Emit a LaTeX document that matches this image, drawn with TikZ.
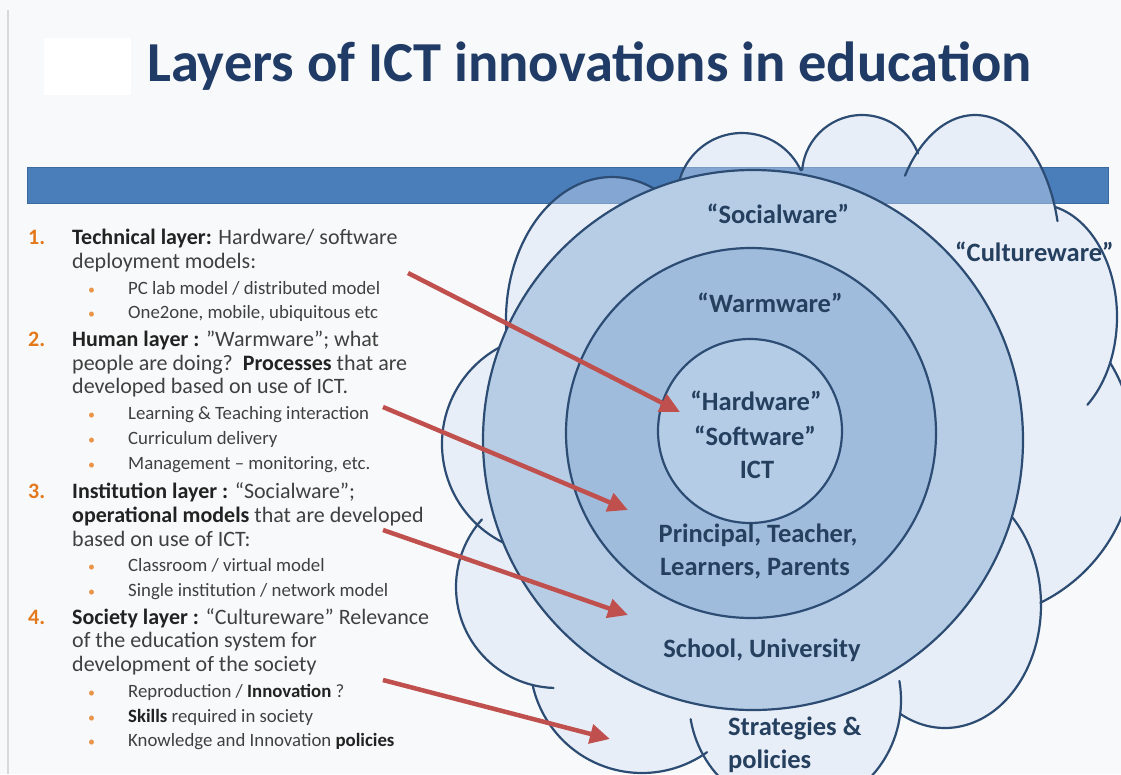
\documentclass[tikz,border=0pt]{standalone}
\usepackage{fontspec}
\setmainfont{Carlito}
\usetikzlibrary{arrows.meta}

\definecolor{slidebg}{HTML}{F8F9FA}
\definecolor{titleblue}{HTML}{1F3B66}
\definecolor{barblue}{HTML}{4A7EBB}
\definecolor{bardark}{HTML}{3A6A9E}
\definecolor{edgeblue}{HTML}{2C4C73}
\definecolor{cloudfill}{HTML}{D4E1F3}
\definecolor{socialfill}{HTML}{B7CDE6}
\definecolor{warmfill}{HTML}{9FBCDD}
\definecolor{hardfill}{HTML}{B5CCE6}
\definecolor{ringtext}{HTML}{253F5F}
\definecolor{bodytext}{HTML}{404040}
\definecolor{boldtext}{HTML}{222222}
\definecolor{numorange}{HTML}{E3791C}
\definecolor{arrowred}{HTML}{C0504D}

\newcommand{\lyrbold}[1]{{\bfseries\color{boldtext}#1}}

\begin{document}
\begin{tikzpicture}[x=1pt, y=-1pt,
  cloud edge/.style={draw=edgeblue, line width=2.2pt, line cap=round},
  ring/.style={circle, draw=edgeblue, line width=2.2pt, inner sep=0pt},
  ring label/.style={anchor=base, text=ringtext, font=\fontsize{26.5}{30}\bfseries, inner sep=0pt},
  num label/.style={anchor=base west, text=numorange, font=\fontsize{22}{24}\bfseries, inner sep=0pt},
  main line/.style={anchor=base west, text=bodytext, font=\fontsize{22}{24}\selectfont, inner sep=0pt},
  dot label/.style={anchor=base west, text=numorange!80, font=\fontsize{14}{16}\selectfont, inner sep=0pt},
  bullet line/.style={anchor=base west, text=bodytext, font=\fontsize{18.8}{20}\selectfont, inner sep=0pt},
  pointer/.style={draw=arrowred, line width=4.5pt, -{Triangle[length=20pt,width=19pt]}}]

\useasboundingbox (0,0) rectangle (1121,774);
\clip (0,0) rectangle (1121,774);

% slide
\fill[slidebg] (0,0) rectangle (1121,774);
\draw[black!15, line width=1.5pt] (8,10) -- (8,774);
\fill[white] (44,38) rectangle (131,95);

% title
\node[anchor=base west, text=titleblue, font=\fontsize{56.5}{60}\bfseries, inner sep=0pt] (title) at (147,81) {Layers of ICT innovations in education};

% bar
\filldraw[fill=barblue, draw=bardark, line width=1pt] (27,167) rectangle (1108,203);

% cloud: fill
\path[fill=cloudfill, fill opacity=0.42]
  ([shift={(612,320)}]170:106 and 143) arc[start angle=170, end angle=302, x radius=106, y radius=143]
  -- ([shift={(742,198)}]180:65) arc[start angle=180, end angle=335, radius=65]
  -- ([shift={(862,175)}]185:60) arc[start angle=185, end angle=339, radius=60]
  -- ([shift={(975,255)}]227.4:85 and 140) arc[start angle=227.4, end angle=340, x radius=85, y radius=140]
  -- ([shift={(1037,317)}]-77:80 and 113) arc[start angle=-77, end angle=24, x radius=80, y radius=113]
  -- ([shift={(966,451)}]-31.4:169) arc[start angle=-31.4, end angle=63.9, radius=169]
  -- ([shift={(945,605)}]-1.4:96 and 123) arc[start angle=-1.4, end angle=118, x radius=96, y radius=123]
  -- ([shift={(795,700)}]6.8:106 and 110) arc[start angle=6.8, end angle=150.3, x radius=106, y radius=110]
  -- ([shift={(642,661)}]54.5:112) arc[start angle=54.5, end angle=167.6, radius=112]
  -- ([shift={(557,587)}]103.8:101) arc[start angle=103.8, end angle=217.8, radius=101]
  -- ([shift={(552,444)}]132.8:110) arc[start angle=132.8, end angle=244.1, radius=110]
  -- cycle;

% cloud: bumps
\draw[cloud edge] ([shift={(612,320)}]165:106 and 143) arc[start angle=165, end angle=305, x radius=106, y radius=143];
\draw[cloud edge] ([shift={(742,198)}]180:65) arc[start angle=180, end angle=335, radius=65];
\draw[cloud edge] ([shift={(862,175)}]185:60) arc[start angle=185, end angle=339, radius=60];
\draw[cloud edge] ([shift={(975,255)}]214.5:85 and 140) arc[start angle=214.5, end angle=346, x radius=85, y radius=140];
\draw[cloud edge] ([shift={(1037,317)}]-77:80 and 113) arc[start angle=-77, end angle=51, x radius=80, y radius=113];
\draw[cloud edge] ([shift={(966,451)}]-31.4:169) arc[start angle=-31.4, end angle=63.9, radius=169];
\draw[cloud edge] ([shift={(945,605)}]-49.4:96 and 123) arc[start angle=-49.4, end angle=118, x radius=96, y radius=123];
\draw[cloud edge] ([shift={(795,700)}]-10:106 and 110) arc[start angle=-10, end angle=170, x radius=106, y radius=110];
\draw[cloud edge] ([shift={(642,661)}]54.5:112) arc[start angle=54.5, end angle=167.6, radius=112];
\draw[cloud edge] ([shift={(557,587)}]92:101) arc[start angle=92, end angle=222, radius=101];
\draw[cloud edge] ([shift={(552,444)}]116:110) arc[start angle=116, end angle=244.1, radius=110];

% layers
\node[ring, fill=socialfill, minimum size=540pt] (social) at (753,440) {};
\node[ring, fill=warmfill, minimum size=370pt] (warm) at (751,433) {};
\node[ring, fill=hardfill, minimum size=184pt] (hard) at (750,431) {};

% layer texts
\node[ring label] (lsocial) at (778,223) {“Socialware”};
\node[ring label] (lwarm) at (770,312) {“Warmware”};
\node[ring label] (lhard) at (756,410) {“Hardware”};
\node[ring label] (lsoft) at (755,445) {“Software”};
\node[ring label] (lict) at (757,478) {ICT};
\node[ring label] (lpeople) at (758,542) {Principal, Teacher,};
\node[ring label] (lparents) at (755,575) {Learners, Parents};
\node[ring label] (lschool) at (762,657) {School, University};
\node[ring label, anchor=base west] (lstrat) at (728,735) {Strategies \&};
\node[ring label, anchor=base west] (lpol) at (728,768) {policies};
\node[ring label, anchor=base west] (lculture) at (955,261) {“Cultureware”};

% item 1
\node[num label] (n1) at (28,244) {1.};
\node[main line] (t1a) at (72,244) {\lyrbold{Technical layer:} Hardware/ software};
\node[main line] (t1b) at (72,268) {deployment models:};
\node[dot label] (d1a) at (88,294) {•};
\node[bullet line] (b1a) at (128,294) {PC lab model / distributed model};
\node[dot label] (d1b) at (88,318) {•};
\node[bullet line] (b1b) at (128,318) {One2one, mobile, ubiquitous  etc};

% item 2
\node[num label] (n2) at (28,346) {2.};
\node[main line] (t2a) at (72,346) {\lyrbold{Human layer :} ”Warmware”; what};
\node[main line] (t2b) at (72,370) {people are doing?\ \ \lyrbold{Processes} that are};
\node[main line] (t2c) at (72,393) {developed based on use of ICT.};
\node[dot label] (d2a) at (88,419) {•};
\node[bullet line] (b2a) at (128,419) {Learning \& Teaching interaction};
\node[dot label] (d2b) at (88,444) {•};
\node[bullet line] (b2b) at (128,444) {Curriculum delivery};
\node[dot label] (d2c) at (88,469) {•};
\node[bullet line] (b2c) at (128,469) {Management – monitoring, etc.};

% item 3
\node[num label] (n3) at (28,498) {3.};
\node[main line] (t3a) at (72,498) {\lyrbold{Institution layer :} “Socialware”;};
\node[main line] (t3b) at (72,522) {\lyrbold{operational models} that are developed};
\node[main line] (t3c) at (72,546) {based on use of ICT:};
\node[dot label] (d3a) at (88,571) {•};
\node[bullet line] (b3a) at (128,571) {Classroom / virtual model};
\node[dot label] (d3b) at (88,596) {•};
\node[bullet line] (b3b) at (128,596) {Single institution / network model};

% item 4
\node[num label] (n4) at (28,624) {4.};
\node[main line] (t4a) at (72,624) {\lyrbold{Society layer :} “Cultureware” Relevance};
\node[main line] (t4b) at (72,647) {of the education system for};
\node[main line] (t4c) at (72,671) {development of the society};
\node[dot label] (d4a) at (88,697) {•};
\node[bullet line] (b4a) at (128,697) {Reproduction / \lyrbold{Innovation} ?};
\node[dot label] (d4b) at (88,722) {•};
\node[bullet line] (b4b) at (128,722) {\lyrbold{Skills} required in society};
\node[dot label] (d4c) at (88,746) {•};
\node[bullet line] (b4c) at (128,746) {Knowledge and Innovation \lyrbold{policies}};

% pointers
\coordinate (p1s) at (408,273);
\coordinate (p1e) at (680,412);
\coordinate (p2s) at (383,407);
\coordinate (p2e) at (628,510);
\coordinate (p3s) at (383,530);
\coordinate (p3e) at (628,615);
\coordinate (p4s) at (383,680);
\coordinate (p4e) at (610,739);
\draw[pointer] (p1s) -- (p1e);
\draw[pointer] (p2s) -- (p2e);
\draw[pointer] (p3s) -- (p3e);
\draw[pointer] (p4s) -- (p4e);

\end{tikzpicture}
\end{document}
